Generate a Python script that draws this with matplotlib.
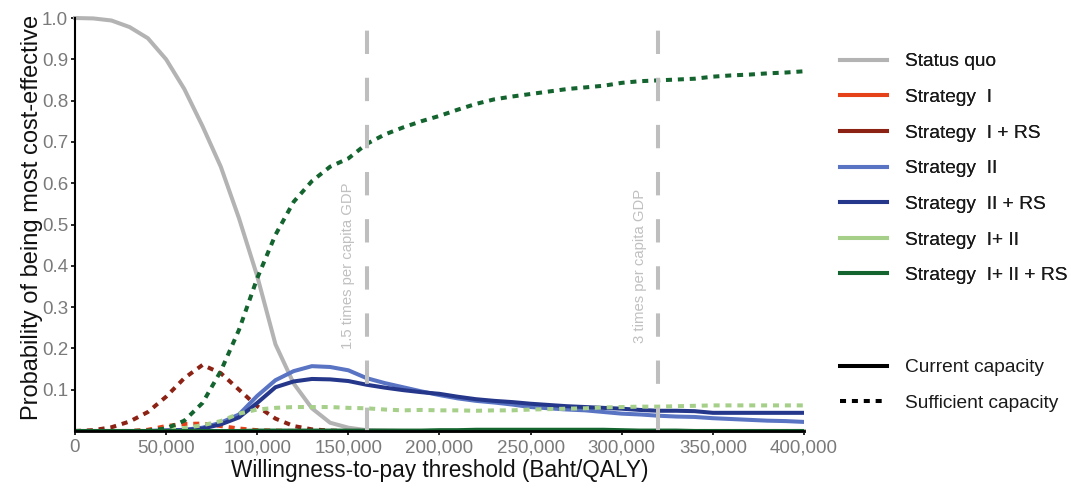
import matplotlib
matplotlib.use("Agg")
import matplotlib.pyplot as plt
from matplotlib.lines import Line2D
from matplotlib.ticker import FuncFormatter

plt.rcParams['font.family'] = ['Liberation Sans', 'DejaVu Sans']

# willingness-to-pay grid (Baht/QALY)
wtp = [0, 10000, 20000, 30000, 40000, 50000, 60000, 70000, 80000, 90000,
       100000, 110000, 120000, 130000, 140000, 150000, 160000, 170000, 180000, 190000,
       200000, 210000, 220000, 230000, 240000, 250000, 260000, 270000, 280000, 290000,
       300000, 310000, 320000, 330000, 340000, 350000, 360000, 370000, 380000, 390000,
       400000]

status_quo = [1.0, 0.999, 0.994, 0.978, 0.951, 0.90, 0.828, 0.738, 0.64, 0.515,
              0.375, 0.21, 0.115, 0.055, 0.02, 0.008, 0.002, 0.001, 0, 0,
              0, 0, 0, 0, 0, 0, 0, 0, 0, 0,
              0, 0, 0, 0, 0, 0, 0, 0, 0, 0, 0]

# current capacity (solid)
s1_cur = [0] * 41
s2_cur = [0, 0, 0, 0, 0, 0.001, 0.003, 0.008, 0.02, 0.04,
          0.085, 0.123, 0.145, 0.157, 0.155, 0.147, 0.128, 0.116, 0.106, 0.096,
          0.087, 0.079, 0.073, 0.069, 0.064, 0.058, 0.055, 0.052, 0.05, 0.046,
          0.042, 0.04, 0.037, 0.035, 0.034, 0.031, 0.029, 0.027, 0.025, 0.024, 0.022]
s2rs_cur = [0, 0, 0, 0, 0, 0.001, 0.002, 0.006, 0.016, 0.033,
            0.068, 0.106, 0.12, 0.126, 0.125, 0.121, 0.112, 0.105, 0.099, 0.094,
            0.09, 0.083, 0.077, 0.073, 0.07, 0.066, 0.063, 0.06, 0.058, 0.056,
            0.054, 0.051, 0.049, 0.049, 0.048, 0.044, 0.044, 0.044, 0.044, 0.044, 0.044]
s12rs_cur = [0, 0, 0, 0, 0, 0, 0, 0, 0, 0,
             0.001, 0.001, 0.001, 0.001, 0.001, 0.001, 0.001, 0.001, 0.001, 0.001,
             0.002, 0.002, 0.003, 0.003, 0.003, 0.003, 0.003, 0.003, 0.003, 0.003,
             0.002, 0.001, 0.001, 0.001, 0, 0, 0, 0, 0, 0, 0]

# sufficient capacity (dotted)
s1_suf = [0, 0, 0, 0, 0.003, 0.012, 0.017, 0.018, 0.012, 0.006,
          0.002, 0.001, 0, 0, 0, 0, 0, 0, 0, 0,
          0, 0, 0, 0, 0, 0, 0, 0, 0, 0,
          0, 0, 0, 0, 0, 0, 0, 0, 0, 0, 0]
s1rs_suf = [0, 0.002, 0.009, 0.023, 0.046, 0.083, 0.128, 0.16, 0.14, 0.1,
            0.06, 0.03, 0.012, 0.004, 0.001, 0, 0, 0, 0, 0,
            0, 0, 0, 0, 0, 0, 0, 0, 0, 0,
            0, 0, 0, 0, 0, 0, 0, 0, 0, 0, 0]
s12_suf = [0, 0, 0, 0, 0, 0.002, 0.007, 0.014, 0.024, 0.042,
           0.052, 0.056, 0.058, 0.058, 0.058, 0.056, 0.055, 0.052, 0.05, 0.051,
           0.05, 0.05, 0.049, 0.05, 0.05, 0.052, 0.053, 0.054, 0.055, 0.057,
           0.058, 0.059, 0.059, 0.06, 0.061, 0.062, 0.062, 0.062, 0.062, 0.062, 0.062]
s12rs_suf = [0, 0, 0, 0, 0.001, 0.006, 0.025, 0.068, 0.145, 0.245,
             0.37, 0.475, 0.555, 0.605, 0.64, 0.66, 0.695, 0.718, 0.735, 0.75,
             0.763, 0.778, 0.792, 0.803, 0.81, 0.816, 0.822, 0.828, 0.832, 0.836,
             0.843, 0.847, 0.849, 0.851, 0.853, 0.858, 0.861, 0.863, 0.866, 0.868, 0.871]

labels = ["Status quo", "Strategy  I", "Strategy  I + RS", "Strategy  II",
          "Strategy  II + RS", "Strategy  I+ II", "Strategy  I+ II + RS"]
colors = ["#b3b3b3", "#e6421a", "#8c2214", "#5a74c4", "#25378a", "#a6d08a", "#14642f"]

thresholds = [160000, 320000]
thr_labels = ["1.5 times per capita GDP", "3 times per capita GDP"]

lw = 2.9
dot = (0, (1.5, 1.45))

fig = plt.figure(figsize=(10.71, 4.88), dpi=100)
ax = fig.add_axes([0.070, 0.1168, 0.6807, 0.8463])

ax.plot(wtp, status_quo, color=colors[0], lw=lw, clip_on=False)
ax.plot(wtp, s1_cur, color=colors[1], lw=lw)
ax.plot(wtp, s1_suf, color=colors[1], lw=lw, ls=dot)
ax.plot(wtp, s1rs_suf, color=colors[2], lw=lw, ls=dot)
ax.plot(wtp, s2_cur, color=colors[3], lw=lw)
ax.plot(wtp, s2rs_cur, color=colors[4], lw=lw)
ax.plot(wtp, s12_suf, color=colors[5], lw=lw, ls=dot)
ax.plot(wtp, s12rs_cur, color=colors[6], lw=lw)
ax.plot(wtp, s12rs_suf, color=colors[6], lw=lw, ls=dot)

for x, t in zip(thresholds, thr_labels):
    ax.plot([x, x], [0, 1.0], color="#bebebe", lw=lw, ls=(0, (5.8, 5.9)))
    ax.text(x - 10000, 0.40, t, rotation=90, ha="center", va="center",
            color="#c0c0c0", fontsize=10.7)

ax.set_xlim(0, 400000)
ax.set_ylim(0, 1.0)
ax.set_xticks(range(0, 400001, 50000))
ax.set_yticks([0.1, 0.2, 0.3, 0.4, 0.5, 0.6, 0.7, 0.8, 0.9, 1.0])
ax.xaxis.set_major_formatter(FuncFormatter(lambda v, p: f"{int(v):,}"))
ax.yaxis.set_major_formatter(FuncFormatter(lambda v, p: f"{v:.1f}"))
ax.tick_params(axis="both", direction="out", length=3, width=1.2,
               labelsize=13.5, labelcolor="#7a7a7a", color="black")
ax.tick_params(axis="y", pad=2)
ax.tick_params(axis="x", pad=3)
for s in ["top", "right"]:
    ax.spines[s].set_visible(False)
ax.spines["left"].set_linewidth(1.5)
ax.spines["bottom"].set_linewidth(2)

ax.set_xlabel("Willingness-to-pay threshold (Baht/QALY)", fontsize=16.3, color="#111111", labelpad=2)
ax.set_ylabel("Probability of being most cost-effective", fontsize=17, color="#111111",
              labelpad=-1, y=0.517)

h1 = [Line2D([], [], color=c, lw=lw) for c in colors]
leg1 = fig.legend(h1, labels, loc="upper left", bbox_to_anchor=(840 / 1071, 1 - 53 / 488),
                  frameon=False, fontsize=13.8, handlelength=2.45, handletextpad=0.94,
                  labelspacing=0.95, borderpad=0, borderaxespad=0)
for t in leg1.get_texts():
    t.set_color("#1a1a1a")

h2 = [Line2D([], [], color="black", lw=lw),
      Line2D([], [], color="black", lw=lw, ls=dot)]
leg2 = fig.legend(h2, ["Current capacity", "Sufficient capacity"], loc="upper left",
                  bbox_to_anchor=(840 / 1071, 1 - 359 / 488),
                  frameon=False, fontsize=13.8, handlelength=2.45, handletextpad=0.94,
                  labelspacing=0.95, borderpad=0, borderaxespad=0)
for t in leg2.get_texts():
    t.set_color("#1a1a1a")
fig.add_artist(leg1)

fig.savefig("out.png", dpi=100)
